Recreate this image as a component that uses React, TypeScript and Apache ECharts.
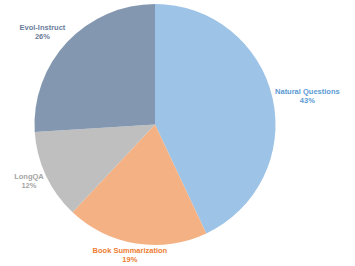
import React, { useEffect, useRef } from "react";
import * as echarts from "echarts";

const categories = ["Natural Questions", "Book Summarization", "LongQA", "Evol-Instruct"];
const values = [43, 19, 12, 26];
const sliceColors = ["#9dc3e6", "#f4b183", "#bfbfbf", "#8497b0"];
const labelColors = ["#5b9bd5", "#ed7d31", "#a5a5a5", "#6a7d9c"];

const CX = 155;
const CY = 124.5;
const R = 120.5;
const GAP = 2.5;

export default function App() {
  const ref = useRef<HTMLDivElement>(null);
  useEffect(() => {
    if (!ref.current) return;
    const chart = echarts.init(ref.current, null, { renderer: "svg" });
    const total = values.reduce((a, b) => a + b, 0);
    const mids: number[] = [];
    let acc = 0;
    values.forEach((v) => {
      mids.push(((acc + v / 2) / total) * Math.PI * 2);
      acc += v;
    });
    chart.setOption({
      animation: false,
      series: [
        {
          type: "pie",
          center: [CX, CY],
          radius: R,
          startAngle: 90,
          clockwise: true,
          avoidLabelOverlap: false,
          data: categories.map((name, i) => ({
            name,
            value: values[i],
            itemStyle: { color: sliceColors[i] },
            label: { color: labelColors[i] },
          })),
          label: {
            show: true,
            position: "inside",
            formatter: (p: any) => `${p.name}\n${Math.round(p.percent)}%`,
            fontFamily: "Liberation Sans, Arial, sans-serif",
            fontWeight: "bold",
            fontSize: 7.5,
            lineHeight: 9,
            align: "center",
          },
          labelLine: { show: false },
          labelLayout: (params: any) => {
            const a = mids[params.dataIndex];
            const dx = Math.sin(a);
            const dy = -Math.cos(a);
            const m = Math.max(Math.abs(dx), Math.abs(dy));
            const px = CX + dx * (R + GAP);
            const py = CY + dy * (R + GAP);
            const w = params.labelRect.width;
            const h = params.labelRect.height;
            return {
              x: px + (dx / m) * (w / 2),
              y: py + (dy / m) * (h / 2),
              align: "center",
              verticalAlign: "middle",
              hideOverlap: false,
            };
          },
        },
      ],
    });
    return () => chart.dispose();
  }, []);
  return (
    <div
      ref={ref}
      style={{ position: "fixed", left: 0, top: 0, width: 355, height: 266, background: "#fff" }}
    />
  );
}
